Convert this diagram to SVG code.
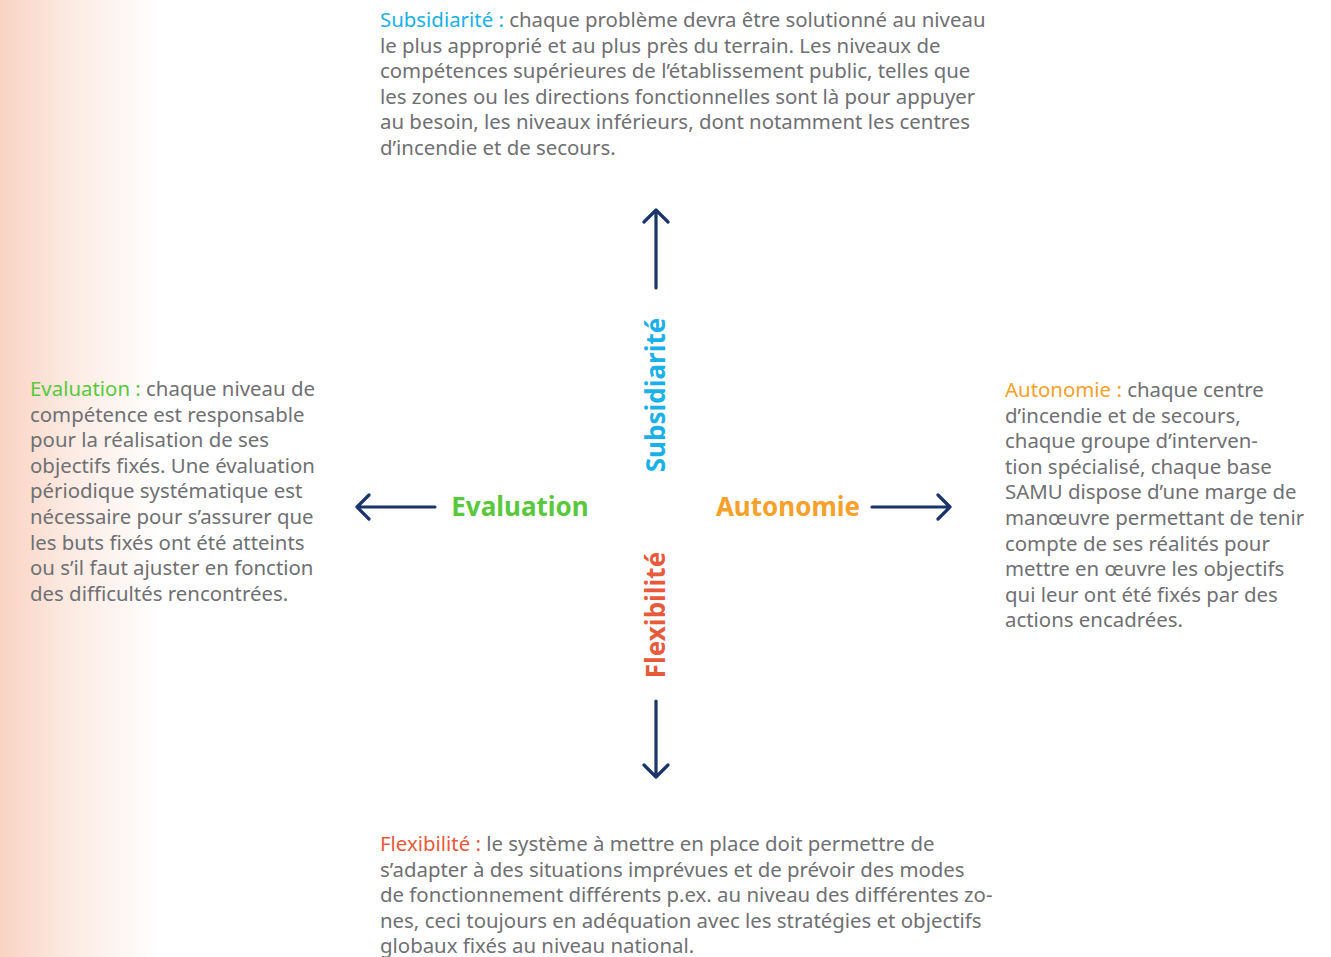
<svg xmlns="http://www.w3.org/2000/svg" width="1331" height="957" viewBox="0 0 1331 957">
<defs>
<linearGradient id="bg" x1="0" y1="0" x2="1" y2="0">
<stop offset="0" stop-color="#f9d3c3"/>
<stop offset="0.45" stop-color="#fcebe3"/>
<stop offset="1" stop-color="#ffffff"/>
</linearGradient>
<style>
.body{font-family:"Noto Sans","Open Sans",sans-serif;font-size:20.4px;fill:#6f7073}
.lbl{font-family:"Noto Sans","Open Sans",sans-serif;font-size:26px;font-weight:bold}
.arr{fill:none;stroke:#1b3469;stroke-width:3.2;stroke-linecap:round;stroke-linejoin:round}
.blue{fill:#1ab0e8}.green{fill:#5ac83c}.orange{fill:#f7a02a}.red{fill:#e85a3c}
</style>
</defs>
<rect width="1331" height="957" fill="#fff"/>
<rect width="160" height="957" fill="url(#bg)"/>
<g id="connectors">
<path class="arr" d="M656 288V210M644 222L656 210L668 222"/>
<path class="arr" d="M656 701V777M644 765L656 777L668 765"/>
<path class="arr" d="M435 507H357M369 495L357 507L369 519"/>
<path class="arr" d="M872 507H950M938 495L950 507L938 519"/>
</g>
<g id="node-subsidiarite">
<text class="lbl blue" transform="translate(665,395) rotate(-90)" text-anchor="middle">Subsidiarité</text>
<text class="body" x="380" y="27"><tspan class="blue">Subsidiarité : </tspan>chaque problème devra être solutionné au niveau</text>
<text class="body" x="380" y="52.6">le plus approprié et au plus près du terrain. Les niveaux de</text>
<text class="body" x="380" y="78.2">compétences supérieures de l’établissement public, telles que</text>
<text class="body" x="380" y="103.8">les zones ou les directions fonctionnelles sont là pour appuyer</text>
<text class="body" x="380" y="129.4">au besoin, les niveaux inférieurs, dont notamment les centres</text>
<text class="body" x="380" y="155">d’incendie et de secours.</text>
</g>
<g id="node-flexibilite">
<text class="lbl red" transform="translate(665,615) rotate(-90)" text-anchor="middle">Flexibilité</text>
<text class="body" x="380" y="851"><tspan class="red">Flexibilité : </tspan>le système à mettre en place doit permettre de</text>
<text class="body" x="380" y="876.6">s’adapter à des situations imprévues et de prévoir des modes</text>
<text class="body" x="380" y="902.2">de fonctionnement différents p.ex. au niveau des différentes zo-</text>
<text class="body" x="380" y="927.8">nes, ceci toujours en adéquation avec les stratégies et objectifs</text>
<text class="body" x="380" y="953.4">globaux fixés au niveau national.</text>
</g>
<g id="node-evaluation">
<text class="lbl green" x="520" y="516" text-anchor="middle">Evaluation</text>
<text class="body" x="30" y="396"><tspan class="green">Evaluation : </tspan>chaque niveau de</text>
<text class="body" x="30" y="421.6">compétence est responsable</text>
<text class="body" x="30" y="447.2">pour la réalisation de ses</text>
<text class="body" x="30" y="472.8">objectifs fixés. Une évaluation</text>
<text class="body" x="30" y="498.4">périodique systématique est</text>
<text class="body" x="30" y="524">nécessaire pour s’assurer que</text>
<text class="body" x="30" y="549.6">les buts fixés ont été atteints</text>
<text class="body" x="30" y="575.2">ou s’il faut ajuster en fonction</text>
<text class="body" x="30" y="600.8">des difficultés rencontrées.</text>
</g>
<g id="node-autonomie">
<text class="lbl orange" x="788" y="516" text-anchor="middle">Autonomie</text>
<text class="body" x="1005" y="397"><tspan class="orange">Autonomie : </tspan>chaque centre</text>
<text class="body" x="1005" y="422.6">d’incendie et de secours,</text>
<text class="body" x="1005" y="448.2">chaque groupe d’interven-</text>
<text class="body" x="1005" y="473.8">tion spécialisé, chaque base</text>
<text class="body" x="1005" y="499.4">SAMU dispose d’une marge de</text>
<text class="body" x="1005" y="525">manœuvre permettant de tenir</text>
<text class="body" x="1005" y="550.6">compte de ses réalités pour</text>
<text class="body" x="1005" y="576.2">mettre en œuvre les objectifs</text>
<text class="body" x="1005" y="601.8">qui leur ont été fixés par des</text>
<text class="body" x="1005" y="627.4">actions encadrées.</text>
</g>
</svg>
